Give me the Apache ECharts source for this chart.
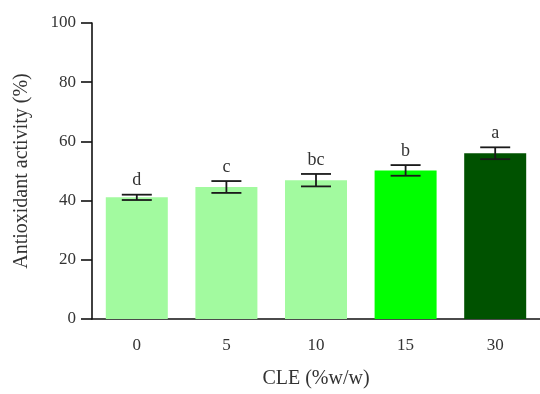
<!DOCTYPE html>
<html>
<head>
<meta charset="utf-8">
<script src="https://cdn.jsdelivr.net/npm/echarts@6/dist/echarts.min.js"></script>
<style>
  html, body { margin: 0; padding: 0; background: #fff; }
  #chart { width: 540px; height: 394px; }
</style>
</head>
<body>
<div id="chart"></div>
<script>
// CLE concentration groups and measured antioxidant activity (mean ± SD)
const categories = ['0', '5', '10', '15', '30'];
const means = [41.1, 44.6, 46.9, 50.2, 56.0];
const errors = [0.9, 2.0, 2.1, 1.8, 2.0];
const letters = ['d', 'c', 'bc', 'b', 'a'];
const barColors = ['#a2fa9f', '#a2fa9f', '#a2fa9f', '#00ff00', '#005200'];
const yTicks = [0, 20, 40, 60, 80, 100];

const FONT = '"Liberation Serif", "DejaVu Serif", serif';

const chart = echarts.init(document.getElementById('chart'));

const errData = means.map((m, i) => [i, m - errors[i], m + errors[i], letters[i]]);

chart.setOption({
  animation: false,
  grid: { left: 92, right: -3, top: 23, bottom: 71 },
  xAxis: {
    type: 'category',
    data: categories,
    name: 'CLE (%w/w)',
    nameLocation: 'middle',
    nameGap: 50,
    nameTextStyle: { fontFamily: FONT, fontSize: 20, color: '#333' },
    axisLine: { lineStyle: { color: '#111', width: 1.6 } },
    axisTick: { alignWithLabel: true, length: 11, lineStyle: { color: '#111', width: 1.6 } },
    axisLabel: { fontFamily: FONT, fontSize: 17, color: '#333', margin: 18 }
  },
  yAxis: {
    type: 'value',
    min: yTicks[0],
    max: yTicks[yTicks.length - 1],
    interval: 20,
    name: 'Antioxidant activity (%)',
    nameLocation: 'middle',
    nameGap: 60,
    nameTextStyle: { fontFamily: FONT, fontSize: 20, color: '#333' },
    splitLine: { show: false },
    axisLine: { show: true, lineStyle: { color: '#111', width: 1.6 } },
    axisTick: { show: true, length: 11, lineStyle: { color: '#111', width: 1.6 } },
    axisLabel: { fontFamily: FONT, fontSize: 17, color: '#333', margin: 16 }
  },
  series: [
    {
      type: 'bar',
      barWidth: 62,
      data: means.map((v, i) => ({ value: v, itemStyle: { color: barColors[i] } }))
    },
    {
      type: 'custom',
      data: errData,
      z: 10,
      renderItem: function (params, api) {
        const x = api.value(0);
        const lo = api.coord([x, api.value(1)]);
        const hi = api.coord([x, api.value(2)]);
        const half = 15;
        const style = { stroke: '#1a1a1a', lineWidth: 1.8 };
        return {
          type: 'group',
          children: [
            { type: 'line', shape: { x1: lo[0], y1: lo[1], x2: hi[0], y2: hi[1] }, style: style },
            { type: 'line', shape: { x1: hi[0] - half, y1: hi[1], x2: hi[0] + half, y2: hi[1] }, style: style },
            { type: 'line', shape: { x1: lo[0] - half, y1: lo[1], x2: lo[0] + half, y2: lo[1] }, style: style },
            {
              type: 'text',
              style: {
                x: hi[0], y: hi[1] - 5,
                text: api.value(3),
                textAlign: 'center', textVerticalAlign: 'bottom',
                font: '18px ' + FONT, fill: '#333'
              }
            }
          ]
        };
      }
    }
  ]
});
</script>
</body>
</html>
